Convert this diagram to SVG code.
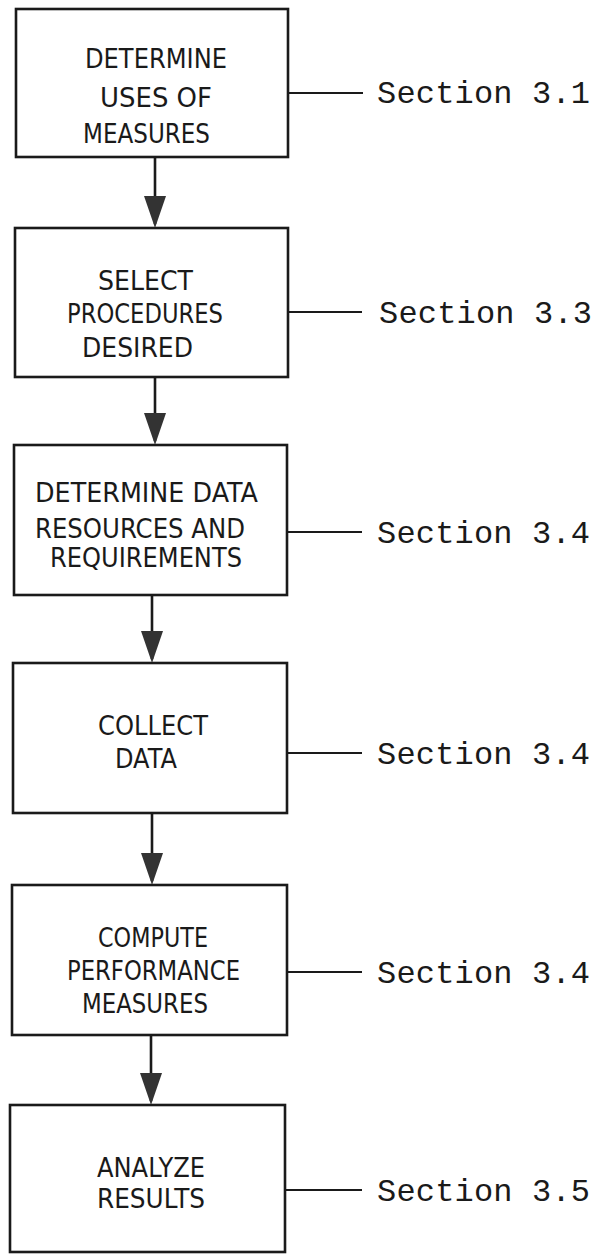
<svg xmlns="http://www.w3.org/2000/svg" width="598" height="1255" viewBox="0 0 598 1255">
<style>
.box{fill:#fff;stroke:#1a1a1a;stroke-width:2.6}
.lbl{font-family:"DejaVu Sans","Liberation Sans",sans-serif;font-size:26px;fill:#1a1a1a}
.sec{font-family:"Liberation Mono","Courier New",monospace;font-size:32px;fill:#1a1a1a}
.flow{stroke:#1a1a1a;stroke-width:2.6;fill:none}
.tie{stroke:#1a1a1a;stroke-width:1.8;fill:none}
</style>
<defs>
<marker id="ah" markerUnits="userSpaceOnUse" markerWidth="34" markerHeight="24" viewBox="0 -12 34 24" refX="28" refY="0" orient="auto">
<path d="M0,-11 L32,0 L0,11 z" fill="#333"/>
</marker>
</defs>
<rect width="598" height="1255" fill="#fff"/>
<g id="connectors">
<line class="flow" x1="155" y1="157" x2="155" y2="224" marker-end="url(#ah)"/>
<line class="flow" x1="155" y1="377" x2="155" y2="441" marker-end="url(#ah)"/>
<line class="flow" x1="152" y1="595" x2="152" y2="659" marker-end="url(#ah)"/>
<line class="flow" x1="152" y1="813" x2="152" y2="881" marker-end="url(#ah)"/>
<line class="flow" x1="151" y1="1035" x2="151" y2="1101" marker-end="url(#ah)"/>
<line class="tie" x1="288" y1="93" x2="363" y2="93"/>
<line class="tie" x1="288" y1="312" x2="362" y2="312"/>
<line class="tie" x1="287" y1="532" x2="362" y2="532"/>
<line class="tie" x1="287" y1="753" x2="362" y2="753"/>
<line class="tie" x1="287" y1="972" x2="362" y2="972"/>
<line class="tie" x1="285" y1="1190" x2="362" y2="1190"/>
</g>
<g id="node1">
<rect class="box" x="16" y="9" width="272" height="148"/>
<text class="lbl" x="85" y="68" textLength="142" lengthAdjust="spacingAndGlyphs">DETERMINE</text>
<text class="lbl" x="100" y="107" textLength="112" lengthAdjust="spacingAndGlyphs">USES OF</text>
<text class="lbl" x="83" y="143" textLength="127" lengthAdjust="spacingAndGlyphs">MEASURES</text>
</g>
<g id="node2">
<rect class="box" x="15" y="228" width="273" height="149"/>
<text class="lbl" x="98" y="290" textLength="95" lengthAdjust="spacingAndGlyphs">SELECT</text>
<text class="lbl" x="67" y="323" textLength="156" lengthAdjust="spacingAndGlyphs">PROCEDURES</text>
<text class="lbl" x="82" y="357" textLength="111" lengthAdjust="spacingAndGlyphs">DESIRED</text>
</g>
<g id="node3">
<rect class="box" x="14" y="445" width="273" height="150"/>
<text class="lbl" x="35" y="502" textLength="223" lengthAdjust="spacingAndGlyphs">DETERMINE DATA</text>
<text class="lbl" x="35" y="538" textLength="210" lengthAdjust="spacingAndGlyphs">RESOURCES AND</text>
<text class="lbl" x="50" y="567" textLength="192" lengthAdjust="spacingAndGlyphs">REQUIREMENTS</text>
</g>
<g id="node4">
<rect class="box" x="13" y="663" width="274" height="150"/>
<text class="lbl" x="98" y="735" textLength="110" lengthAdjust="spacingAndGlyphs">COLLECT</text>
<text class="lbl" x="115" y="768" textLength="62" lengthAdjust="spacingAndGlyphs">DATA</text>
</g>
<g id="node5">
<rect class="box" x="12" y="885" width="275" height="150"/>
<text class="lbl" x="98" y="947" textLength="110" lengthAdjust="spacingAndGlyphs">COMPUTE</text>
<text class="lbl" x="67" y="980" textLength="173" lengthAdjust="spacingAndGlyphs">PERFORMANCE</text>
<text class="lbl" x="82" y="1013" textLength="126" lengthAdjust="spacingAndGlyphs">MEASURES</text>
</g>
<g id="node6">
<rect class="box" x="10" y="1105" width="275" height="147"/>
<text class="lbl" x="97" y="1177" textLength="108" lengthAdjust="spacingAndGlyphs">ANALYZE</text>
<text class="lbl" x="97" y="1208" textLength="108" lengthAdjust="spacingAndGlyphs">RESULTS</text>
</g>
<g id="labels">
<text class="sec" x="377" y="103" textLength="213">Section 3.1</text>
<text class="sec" x="379" y="323" textLength="213">Section 3.3</text>
<text class="sec" x="377" y="543" textLength="213">Section 3.4</text>
<text class="sec" x="377" y="764" textLength="213">Section 3.4</text>
<text class="sec" x="377" y="983" textLength="213">Section 3.4</text>
<text class="sec" x="377" y="1201" textLength="213">Section 3.5</text>
</g>
</svg>
